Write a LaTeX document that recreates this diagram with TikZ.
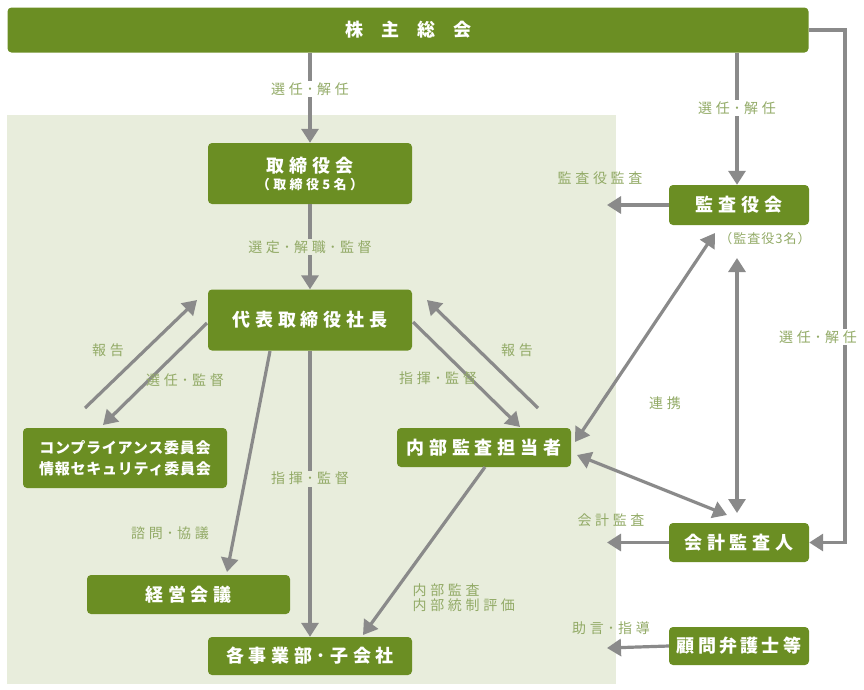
\documentclass[tikz,border=0pt]{standalone}
\usepackage{fontspec}
\setmainfont{Noto Sans CJK JP}
\usetikzlibrary{arrows.meta}
\definecolor{grn}{RGB}{107,142,35}
\definecolor{lbl}{RGB}{146,170,102}
\definecolor{arr}{RGB}{138,138,138}
\definecolor{panel}{RGB}{232,237,220}
\begin{document}
\begin{tikzpicture}[x=1pt,y=-1pt,
  box/.style={fill=grn, rounded corners=4pt, text=white, inner sep=0pt, align=center,
    font=\bfseries\fontsize{18}{21}\selectfont\addfontfeatures{LetterSpace=26}},
  lab/.style={text=lbl, inner sep=1.5pt, align=center,
    font=\fontsize{14}{17}\selectfont\addfontfeatures{LetterSpace=26}},
  conn/.style={draw=arr, line width=3.2pt, -{Triangle[width=17pt,length=14pt]}},
  dconn/.style={draw=arr, line width=3.2pt, {Triangle[width=17pt,length=14pt]}-{Triangle[width=17pt,length=14pt]}}]
\useasboundingbox (0,0) rectangle (864,689);
\fill[panel] (7,115) rectangle (616,684);

% boxes
\node[box, minimum width=801pt, minimum height=45pt] (top) at (408,30)
  {株\hspace{18pt}主\hspace{18pt}総\hspace{18pt}会};
\node[box, minimum width=204pt, minimum height=61pt] (board) at (310,173.5)
  {取締役会\\[-4pt]{\fontsize{13}{15}\selectfont （取締役5名）}};
\node[box, minimum width=204pt, minimum height=61pt] (ceo) at (310,320) {代表取締役社長};
\node[box, minimum width=204pt, minimum height=60pt,
  font=\bfseries\fontsize{15}{21}\selectfont\addfontfeatures{LetterSpace=5}] (comp) at (125,458)
  {コンプライアンス委員会\\情報セキュリティ委員会};
\node[box, minimum width=203pt, minimum height=39pt] (keiei) at (188.5,594.5) {経営会議};
\node[box, minimum width=204pt, minimum height=38pt] (jigyo) at (310,656) {各事業部･子会社};
\node[box, minimum width=174pt, minimum height=39pt] (naibu) at (484,447.5) {内部監査担当者};
\node[box, minimum width=140pt, minimum height=40pt] (kansa) at (739,205) {監査役会};
\node[box, minimum width=140pt, minimum height=39pt] (kaikei) at (739,542.5) {会計監査人};
\node[box, minimum width=140pt, minimum height=38pt,
  font=\bfseries\fontsize{18}{21}\selectfont\addfontfeatures{LetterSpace=18}] (komon) at (739,646) {顧問弁護士等};

\node[lab, font=\fontsize{13}{15}\selectfont\addfontfeatures{LetterSpace=8}] (kansa3) at (765,239) {（監査役3名）};

% free-end coordinates
\coordinate (c1) at (845,30);
\coordinate (c2) at (845,542.5);
\coordinate (kansaL) at (607,205);
\coordinate (kaikeiL) at (607,542.5);
\coordinate (komonL) at (607,648);
\coordinate (ceoA) at (207,323);   \coordinate (compA) at (103,425);
\coordinate (compB) at (85,408);   \coordinate (ceoB) at (197,300);
\coordinate (ceoC) at (270,351);   \coordinate (keieiC) at (227,572);
\coordinate (ceoD) at (413,322);   \coordinate (naibuD) at (520,427);
\coordinate (naibuE) at (538,408); \coordinate (ceoE) at (427,300);
\coordinate (naibuF) at (485,467); \coordinate (jigyoF) at (363,635);
\coordinate (naibuG) at (575,442); \coordinate (kansaG) at (715,233);
\coordinate (naibuH) at (577,455); \coordinate (kaikeiH) at (727,515);
\coordinate (kansaV) at (737,258); \coordinate (kaikeiV) at (737,513);

% connectors
\draw[conn] (top.south -| board.north) -- (board.north)
  node[lab, pos=0.4, fill=white] {選任･解任};
\draw[conn] (top.south -| kansaV) -- (kansa.north -| kansaV)
  node[lab, pos=0.42, fill=white] {選任･解任};
\draw[conn] (top.east) -- (c1) -- (c2) -- (kaikei.east);
\node[lab, fill=white] at (818,337) {選任･解任};
\draw[conn] (board.south) -- (ceo.north)
  node[lab, midway, fill=panel] {選定･解職･監督};
\draw[conn] (kansa.west) -- (kansaL);
\node[lab] at (600,178) {監査役監査};
\draw[conn] (ceoA) -- (compA);
\node[lab] at (185,380) {選任･監督};
\draw[conn] (compB) -- (ceoB);
\node[lab] at (108,350) {報告};
\draw[conn] (ceoC) -- (keieiC);
\node[lab] at (170,533) {諮問･協議};
\draw[conn] (ceo.south) -- (jigyo.north)
  node[lab, pos=0.447, fill=panel] {指揮･監督};
\draw[conn] (ceoD) -- (naibuD);
\node[lab] at (438,378) {指揮･監督};
\draw[conn] (naibuE) -- (ceoE);
\node[lab] at (517,350) {報告};
\draw[conn] (naibuF) -- (jigyoF);
\node[lab, anchor=west, align=left] at (411,598) {内部監査\\[-2pt]内部統制評価};
\draw[dconn] (naibuG) -- (kansaG);
\draw[dconn] (naibuH) -- (kaikeiH);
\draw[dconn] (kansaV) -- (kaikeiV);
\node[lab] at (665,403) {連携};
\draw[conn] (kaikei.west) -- (kaikeiL);
\node[lab] at (611,520) {会計監査};
\draw[conn] (komon.west) -- (komonL);
\node[lab] at (611,628) {助言･指導};
\end{tikzpicture}
\end{document}
